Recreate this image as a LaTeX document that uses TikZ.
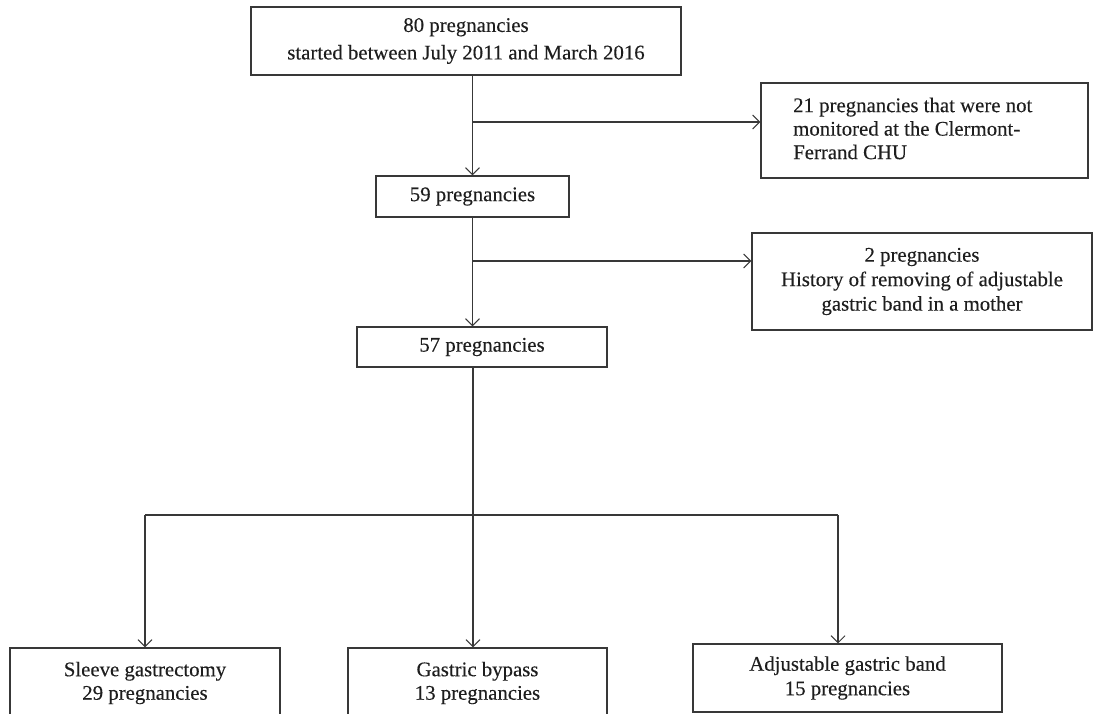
\documentclass[tikz,border=0pt]{standalone}
\usepackage{fontspec}
\setmainfont[FakeBold=0.25]{Liberation Serif}
\usetikzlibrary{arrows.meta}
\definecolor{linec}{HTML}{383838}
\definecolor{textc}{HTML}{1E1E1E}
\begin{document}
\begin{tikzpicture}[x=1pt,y=-1pt,
  box/.style={draw=linec, line width=1.2pt, inner sep=0pt, align=center, text=textc,
              font=\fontsize{20.8}{24.5}\selectfont},
  txt/.style={inner sep=0pt, text=textc, font=\fontsize{20.8}{23.5}\selectfont},
  conn/.style={draw=linec, line width=1.2pt},
  arr/.style={conn, -{Straight Barb[length=7pt,width=14pt,line width=1pt]}}]
\useasboundingbox (0,0) rectangle (1097,714);
\clip (0,0) rectangle (1097,714);

\node[box, minimum width=430pt, minimum height=68pt] (top) at (466,41)
  {80 pregnancies\\[3pt]started between July 2011 and March 2016};
\node[box, minimum width=327pt, minimum height=95pt] (n21) at (924.5,130.5) {};
\node[txt, anchor=west, align=left] (t21) at (793,128.5)
  {21 pregnancies that were not\\monitored at the Clermont-\\Ferrand CHU};
\node[box, minimum width=193pt, minimum height=41pt] (n59) at (472.5,196.5) {59 pregnancies};
\node[box, minimum width=340pt, minimum height=97pt] (n2) at (922,281.5)
  {2 pregnancies\\History of removing of adjustable\\gastric band in a mother};
\node[box, minimum width=250pt, minimum height=40pt] (n57) at (482,347) {57 pregnancies};
\node[box, minimum width=270pt, minimum height=80pt] (sl) at (145,688) {};
\node[txt, align=center] (tsl) at (145,683) {Sleeve gastrectomy\\29 pregnancies};
\node[box, minimum width=259pt, minimum height=80pt] (gb) at (477.5,688) {};
\node[txt, align=center] (tgb) at (477.5,683) {Gastric bypass\\13 pregnancies};
\node[box, minimum width=309pt, minimum height=68pt] (ab) at (847.5,678)
  {Adjustable gastric band\\15 pregnancies};

% connectors
\coordinate (b1) at (473,122);
\coordinate (b2) at (473,261);
\coordinate (j) at (473,515);
\coordinate (jl) at (145,515);
\coordinate (jr) at (838,515);

\draw[arr] (top.south -| n59.north) -- (n59.north);
\draw[arr] (b1) -- (n21.west |- b1);
\draw[arr] (n59.south) -- (n57.north -| n59.south);
\draw[arr] (b2) -- (n2.west |- b2);
\draw[conn] (n57.south -| j) -- (j);
\draw[conn] (jl) -- (jr);
\draw[arr] (jl) -- (sl.north -| jl);
\draw[arr] (j) -- (gb.north -| j);
\draw[arr] (jr) -- (ab.north -| jr);
\end{tikzpicture}
\end{document}
